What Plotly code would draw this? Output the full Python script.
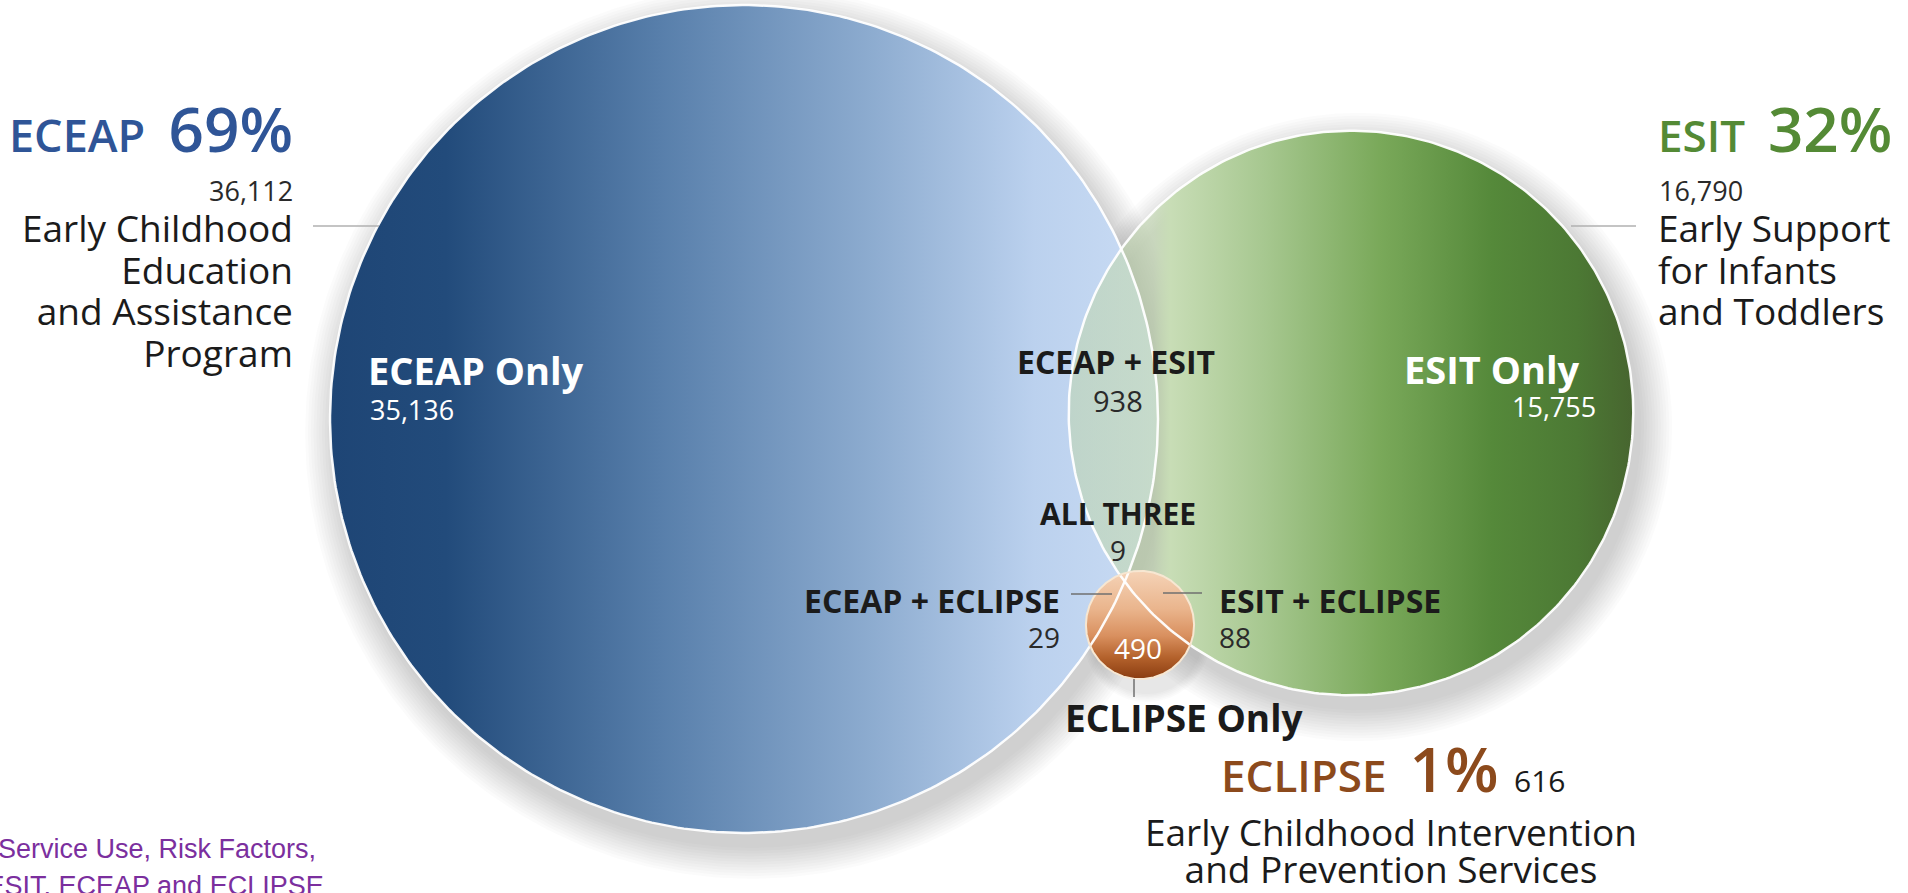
import numpy as np
import plotly.graph_objects as go

# ---------------- data ----------------
programs = ["ECEAP", "ESIT", "ECLIPSE"]
program_totals = [36112, 16790, 616]
program_pct = [69, 32, 1]
program_names = [
    ["Early Childhood", "Education", "and Assistance", "Program"],
    ["Early Support", "for Infants", "and Toddlers"],
    ["Early Childhood Intervention", "and Prevention Services"],
]
region_labels = ["ECEAP Only", "ESIT Only", "ECLIPSE Only", "ECEAP + ESIT",
                 "ECEAP + ECLIPSE", "ESIT + ECLIPSE", "ALL THREE"]
region_counts = [35136, 15755, 490, 938, 29, 88, 9]
source_lines = ["Service Use, Risk Factors,", "g ESIT, ECEAP and ECLIPSE"]

# ---------------- layout / style ----------------
W, H = 1908, 893
FONT = "Open Sans"
R_MAX = 414
centers = {"ECEAP": (744, 419), "ESIT": (1351, 413), "ECLIPSE": (1140, 625)}
radii = {p: R_MAX * np.sqrt(t / max(program_totals)) for p, t in zip(programs, program_totals)}
head_colors = {"ECEAP": "#2f5597", "ESIT": "#548a35", "ECLIPSE": "#8c4a1c"}
TXT = "#1b1b1b"
NUM = "#2a2a2a"
NB = "\u00a0"


def circle(cx, cy, r, n=400):
    t = np.linspace(0, 2 * np.pi, n)
    return cx + r * np.cos(t), cy + r * np.sin(t)


fig = go.Figure()

# soft drop shadows
for p in programs:
    cx, cy = centers[p]
    r = radii[p]
    big = r > 100
    layers = 12 if big else 6
    for k in range(layers):
        xs, ys = circle(cx + 7, cy + 14, r + 1 + k * (2.8 if big else 1.6))
        fig.add_trace(go.Scatter(x=xs, y=ys, mode="lines", fill="toself",
                                 line=dict(width=0), fillcolor="rgba(95,85,80,0.024)",
                                 hoverinfo="skip"))

# ECEAP circle
cx, cy = centers["ECEAP"]; r = radii["ECEAP"]
xs, ys = circle(cx, cy, r)
fig.add_trace(go.Scatter(
    x=xs, y=ys, mode="lines", fill="toself", line=dict(width=0), hoverinfo="skip",
    fillgradient=dict(type="horizontal", start=cx - r, stop=cx + r,
                      colorscale=[[0, "#1e4575"], [0.14, "#224b7b"], [0.4, "#587fab"],
                                  [0.65, "#8cabcf"], [0.85, "#bbd1ee"], [1, "#cadcf4"]])))

# ESIT circle
cx, cy = centers["ESIT"]; r = radii["ESIT"]
xs, ys = circle(cx, cy, r)
fig.add_trace(go.Scatter(
    x=xs, y=ys, mode="lines", fill="toself", line=dict(width=0), hoverinfo="skip",
    fillgradient=dict(type="horizontal", start=cx - r, stop=cx + r,
                      colorscale=[[0, "rgba(190,212,172,0.55)"], [0.15, "rgba(196,218,178,0.62)"],
                                  [0.18, "rgba(200,221,182,1)"], [0.35, "#a6c78f"],
                                  [0.55, "#7aa95a"], [0.75, "#55893a"], [0.9, "#4c7934"],
                                  [1, "#47652f"]])))

# ECLIPSE circle
cx, cy = centers["ECLIPSE"]; r = radii["ECLIPSE"]
xs, ys = circle(cx, cy, r)
fig.add_trace(go.Scatter(
    x=xs, y=ys, mode="lines", fill="toself", line=dict(width=0), hoverinfo="skip",
    fillgradient=dict(type="vertical", start=cy - r, stop=cy + r,
                      colorscale=[[0, "#f5d3b7"], [0.35, "#eab58d"], [0.6, "#d9905f"],
                                  [0.8, "#b4622c"], [1, "#8a3c10"]])))

# outlines
for p, col, w in [("ECEAP", "rgba(255,255,255,0.95)", 2.5),
                  ("ESIT", "rgba(255,255,255,0.95)", 2.5),
                  ("ECLIPSE", "#f7e7d2", 2)]:
    xs, ys = circle(centers[p][0], centers[p][1], radii[p])
    fig.add_trace(go.Scatter(x=xs, y=ys, mode="lines", line=dict(color=col, width=w),
                             hoverinfo="skip"))


# connector lines
def connector(x0, y0, x1, y1, col="#8f8f8f"):
    fig.add_trace(go.Scatter(x=[x0, x1], y=[y0, y1], mode="lines",
                             line=dict(color=col, width=1.5), hoverinfo="skip"))


connector(313, 226, 379, 226, "#b0b0b0")
connector(1571, 226, 1636, 226, "#b0b0b0")
connector(1071, 594, 1112, 594, "#6f6f6f")
connector(1163, 593, 1202, 593, "#6f6f6f")
connector(1134, 679, 1134, 697, "#6f6f6f")

# ---------------- text ----------------
ann = []


def add(x, y, text, size, color=TXT, xanchor="left", yanchor="middle", weight=400,
        family=FONT, align=None):
    ann.append(dict(x=x, y=y, xref="x", yref="y", text=text, showarrow=False,
                    xanchor=xanchor, yanchor=yanchor, align=align or xanchor,
                    font=dict(size=size, color=color, family=family, weight=weight)))


def fmt(n):
    return f"{n:,}"


def block(lines, glyph_size):
    return "<br>".join(f"<span style='font-size:{glyph_size}px'>{l}</span>" for l in lines)


# Headline blocks
add(295, 172, f"<span style='font-size:45px'>{programs[0]}{NB}{NB}</span>"
              f"<span style='font-size:62px'>{program_pct[0]}%</span>",
    45, head_colors["ECEAP"], "right", "bottom", 600)
add(1656, 172, f"<span style='font-size:44px'>{programs[1]}{NB}{NB}</span>"
               f"<span style='font-size:62px'>{program_pct[1]}%</span>",
    44, head_colors["ESIT"], "left", "bottom", 600)
add(1219, 812, f"<span style='font-size:44px'>{programs[2]}{NB}{NB}</span>"
               f"<span style='font-size:62px'>{program_pct[2]}%</span>"
               f"<span style='font-size:30px;font-weight:400;fill:{TXT}'>{NB}{NB}{program_totals[2]}</span>",
    44, head_colors["ECLIPSE"], "left", "bottom", 600)

add(295, 190, fmt(program_totals[0]), 27, NUM, "right")
add(1657, 190, fmt(program_totals[1]), 27, NUM, "left")

# program full names (line spacing = 1.3 x base size)
add(295, 290, block(program_names[0], 37), 32, TXT, "right")
add(1656, 269, block(program_names[1], 37), 32, TXT, "left")
add(1391, 850, block(program_names[2], 37), 28.5, TXT, "center")

# region labels
rl = dict(zip(region_labels, region_counts))
add(366, 370, "ECEAP Only", 38, "white", "left", weight=700)
add(368, 409, fmt(rl["ECEAP Only"]), 27, "white", "left")
add(1581, 369, "ESIT Only", 38, "white", "right", weight=700)
add(1598, 406, fmt(rl["ESIT Only"]), 27, "white", "right")
add(1116, 361, "ECEAP + ESIT", 32, TXT, "center", weight=700)
add(1118, 400, fmt(rl["ECEAP + ESIT"]), 29, NUM, "center")
add(1118, 513, "ALL THREE", 30, TXT, "center", weight=700)
add(1118, 550, fmt(rl["ALL THREE"]), 28, NUM, "center")
add(1062, 600, "ECEAP + ECLIPSE", 32, TXT, "right", weight=700)
add(1062, 637, fmt(rl["ECEAP + ECLIPSE"]), 28, NUM, "right")
add(1217, 600, "ESIT + ECLIPSE", 32, TXT, "left", weight=700)
add(1217, 637, fmt(rl["ESIT + ECLIPSE"]), 28, NUM, "left")
add(1138, 648, fmt(rl["ECLIPSE Only"]), 28, "white", "center")
add(1063, 717, "ECLIPSE Only", 37, TXT, "left", weight=700)

# source text (partially visible at the page edge)
add(318, 849, source_lines[0], 27, "#7b2f9e", "right", family="Liberation Sans")
add(326, 886, source_lines[1], 27, "#7b2f9e", "right", family="Liberation Sans")

fig.update_layout(
    width=W, height=H, margin=dict(l=0, r=0, t=0, b=0),
    paper_bgcolor="white", plot_bgcolor="white", showlegend=False,
    xaxis=dict(range=[0, W], visible=False, fixedrange=True),
    yaxis=dict(range=[H, 0], visible=False, fixedrange=True),
    annotations=ann, hovermode=False,
)

fig.write_html("out.html", config={"displayModeBar": False},
               post_script="document.body.style.margin='0';document.body.style.overflow='hidden';")
